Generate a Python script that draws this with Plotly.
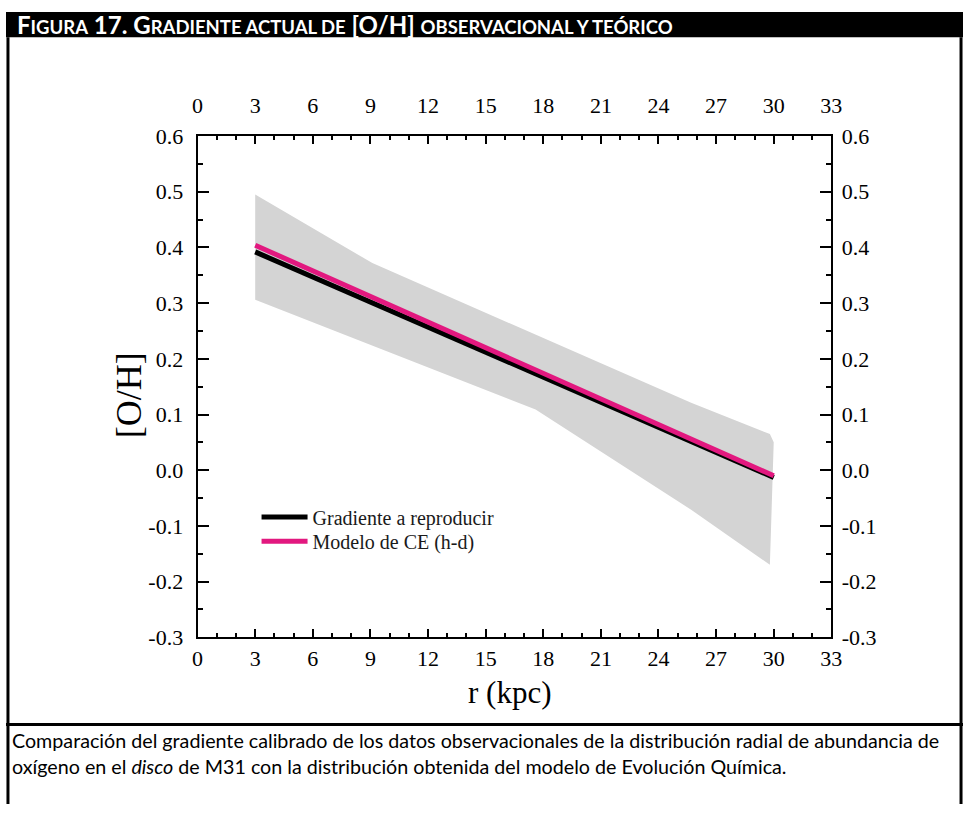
import plotly.graph_objects as go

# ---- data ---------------------------------------------------------------
# radial range of the present-day gradient (kpc)
r_line = [3.0, 30.0]
grad_obs = [0.392, -0.013]      # calibrated observational gradient
grad_model = [0.404, -0.010]    # chemical evolution model (h-d)

# uncertainty envelope of the observational gradient
band_r_upper = [3.0, 9.1, 25.7, 29.8, 30.0]
band_upper = [0.495, 0.372, 0.121, 0.065, 0.050]
band_r_lower = [3.0, 17.6, 25.7, 29.8]
band_lower = [0.306, 0.109, -0.071, -0.170]

x_ticks = [0, 3, 6, 9, 12, 15, 18, 21, 24, 27, 30, 33]
y_ticks = [-0.3, -0.2, -0.1, 0.0, 0.1, 0.2, 0.3, 0.4, 0.5, 0.6]
y_ticktext = ["-0.3", "-0.2", "-0.1", "0.0", "0.1", "0.2", "0.3", "0.4", "0.5", "0.6"]

# ---- page geometry (pixels) --------------------------------------------
W, H = 974, 817
PX_L, PX_R = 195, 840
PX_T, PX_B = 128, 645
HEAD_T, HEAD_B = 0, 26
SEP_Y = 735


def px(x):
    return x / W


def py(y):
    return 1 - y / H


serif = "Liberation Serif"
sans = "Lato"

fig = go.Figure()

# envelope polygon
poly_x = band_r_upper + band_r_lower[::-1]
poly_y = band_upper + band_lower[::-1]
fig.add_trace(go.Scatter(
    x=poly_x, y=poly_y, fill="toself", fillcolor="#d4d4d4",
    line=dict(width=0), mode="lines", hoverinfo="skip", showlegend=False,
))

fig.add_trace(go.Scatter(
    x=r_line, y=grad_obs, mode="lines", name="Gradiente a reproducir",
    line=dict(color="#000000", width=5), legend="legend",
))
fig.add_trace(go.Scatter(
    x=r_line, y=grad_model, mode="lines", name="Modelo de CE (h-d)",
    line=dict(color="#e2187f", width=5), legend="legend2",
))
# empty trace that carries the mirrored top/right axes
fig.add_trace(go.Scatter(x=[], y=[], xaxis="x2", yaxis="y2", showlegend=False))

axis_common = dict(
    showgrid=False, zeroline=False, showline=True, linecolor="black",
    linewidth=2, ticks="inside", tickcolor="black", tickwidth=2,
    tickfont=dict(family=serif, size=22, color="black"),
)
minor_x = dict(ticks="inside", dtick=1, ticklen=4, tickwidth=2, tickcolor="black")
minor_y = dict(ticks="inside", dtick=0.05, ticklen=5, tickwidth=2, tickcolor="black")

legend_common = dict(
    xanchor="left", yanchor="middle", bgcolor="rgba(0,0,0,0)",
    font=dict(family=serif, size=20, color="#1a1a1a"), itemwidth=46,
)

fig.update_layout(
    width=W, height=H,
    margin=dict(l=0, r=0, t=0, b=0),
    paper_bgcolor="white", plot_bgcolor="white",
    xaxis=dict(
        domain=[px(PX_L), px(PX_R)], range=[0, 33],
        tickvals=x_ticks, ticklen=8, ticklabelstandoff=0, minor=minor_x,
        **axis_common,
    ),
    xaxis2=dict(
        domain=[px(PX_L), px(PX_R)], range=[0, 33], overlaying="x", side="top",
        anchor="y2", tickvals=x_ticks, ticklen=8, ticklabelstandoff=12, minor=minor_x,
        **axis_common,
    ),
    yaxis=dict(
        domain=[py(PX_B), py(PX_T)], range=[-0.3, 0.6],
        tickvals=y_ticks, ticktext=y_ticktext, ticklen=11, ticklabelstandoff=8,
        minor=minor_y, **axis_common,
    ),
    yaxis2=dict(
        domain=[py(PX_B), py(PX_T)], range=[-0.3, 0.6], overlaying="y", side="right",
        anchor="x2", tickvals=y_ticks, ticktext=y_ticktext, ticklen=11, ticklabelstandoff=4,
        minor=minor_y, **axis_common,
    ),
    legend=dict(x=px(255), y=py(521), **legend_common),
    legend2=dict(x=px(255), y=py(546), **legend_common),
)

# header bar, frame and caption divider
shapes = [
    dict(type="rect", xref="paper", yref="paper", x0=0, x1=1, y0=py(HEAD_B), y1=py(HEAD_T),
         fillcolor="black", line=dict(width=0), layer="above"),
    dict(type="line", xref="paper", yref="paper", x0=px(2), x1=px(2), y0=py(H), y1=py(HEAD_B),
         line=dict(color="black", width=3)),
    dict(type="line", xref="paper", yref="paper", x0=px(972), x1=px(972), y0=py(H), y1=py(HEAD_B),
         line=dict(color="black", width=3)),
    dict(type="line", xref="paper", yref="paper", x0=0, x1=1, y0=py(SEP_Y), y1=py(SEP_Y),
         line=dict(color="black", width=3)),
]
fig.update_layout(shapes=shapes)

small = '<span style="font-size:18.5px">'
header = ('<b>F' + small + 'IGURA</span> 17. G' + small + 'RADIENTE ACTUAL DE</span> '
          '[O/H] ' + small + 'OBSERVACIONAL Y TEÓRICO</span></b>')

caption = ("Comparación del gradiente calibrado de los datos observacionales de la "
           "distribución radial de abundancia de<br>"
           "oxígeno en el <i>disco</i> de M31 con la distribución obtenida del modelo "
           "de Evolución Química.")

annotations = [
    dict(text=header, x=px(9), y=py((HEAD_T + HEAD_B) / 2), xref="paper", yref="paper",
         xanchor="left", yanchor="middle", showarrow=False,
         font=dict(family=sans, size=24, color="white")),
    dict(text="[O/H]", x=px(126), y=py((PX_T + PX_B) / 2 + 9), xref="paper", yref="paper",
         textangle=-90, showarrow=False, xanchor="center", yanchor="middle",
         font=dict(family=serif, size=36, color="black")),
    dict(text="r (kpc)", x=px((PX_L + PX_R) / 2 - 5), y=py(702), xref="paper", yref="paper",
         showarrow=False, xanchor="center", yanchor="middle",
         font=dict(family=serif, size=31, color="black")),
    dict(text=caption, x=px(4), y=py(SEP_Y + 30), xref="paper", yref="paper",
         showarrow=False, xanchor="left", yanchor="middle", align="left",
         font=dict(family=sans, size=19.7, color="black")),
]
fig.update_layout(annotations=annotations)

fig.write_html("out.html")
